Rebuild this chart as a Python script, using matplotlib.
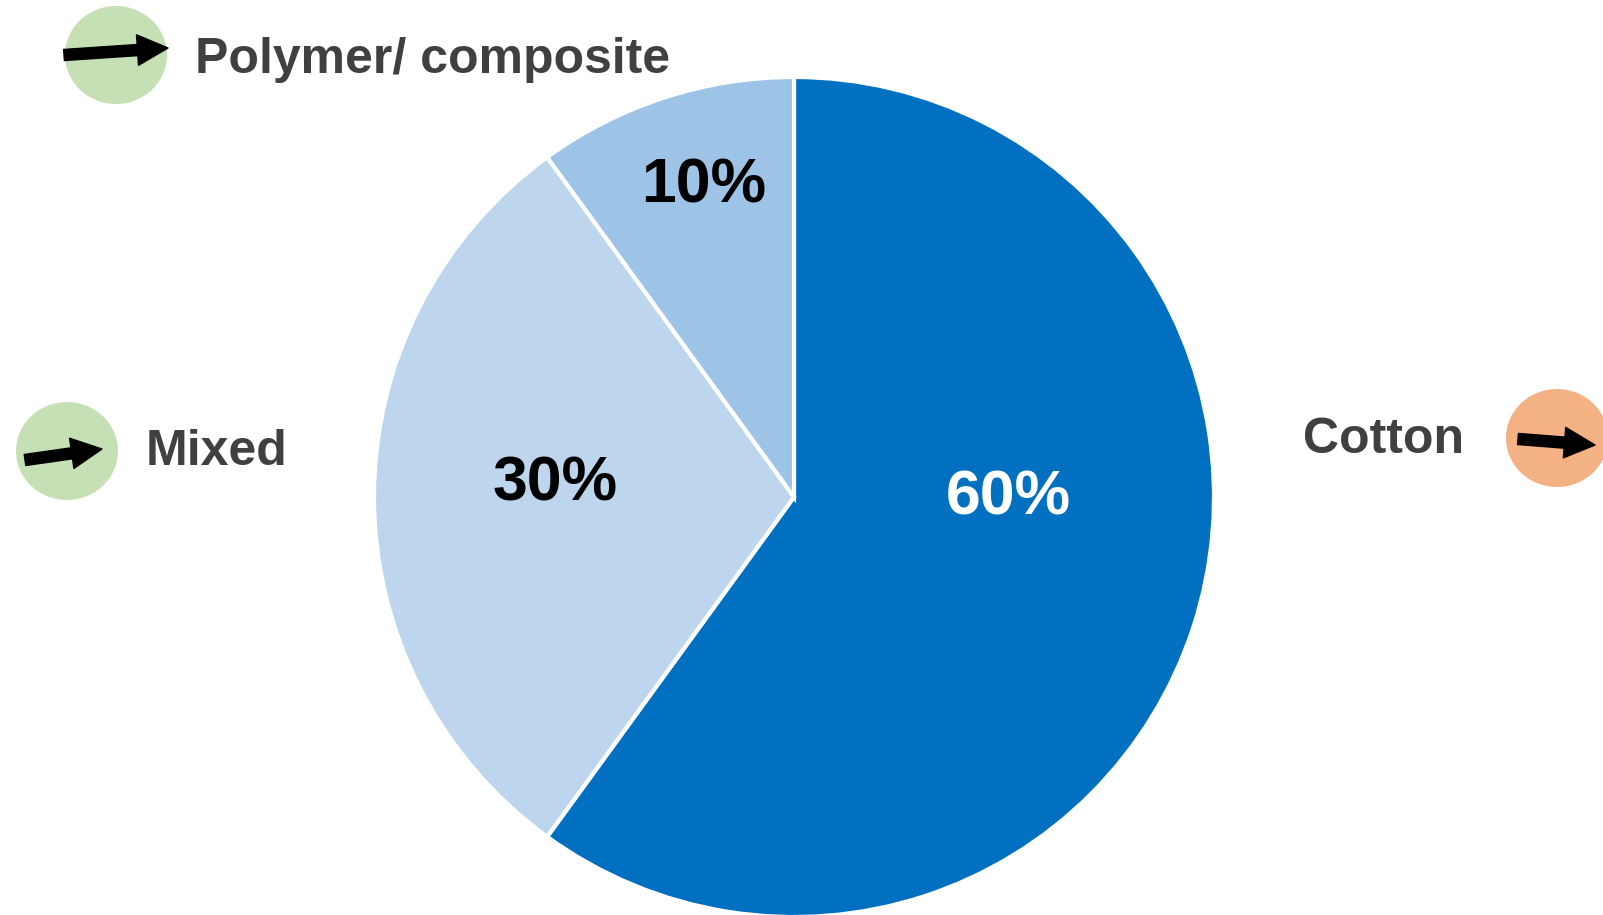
import matplotlib
matplotlib.use("Agg")
import matplotlib.pyplot as plt
from matplotlib.patches import Ellipse

plt.rcParams['font.family'] = ['Liberation Sans', 'DejaVu Sans']

W = 1603
H = 915

# slices go clockwise from 12 o'clock
categories = ['Cotton', 'Mixed', 'Polymer/ composite']
shares = [60, 30, 10]
labels = ['60%', '30%', '10%']
colors = ['#0170C1', '#BDD6EE', '#9DC3E6']
label_colors = ['white', 'black', 'black']
badge_colors = ['#F4B183', '#C5E0B4', '#C5E0B4']

fig = plt.figure(figsize=(W / 100, H / 100), dpi=100)

# pie axes placed in pixel fractions
cx, cy, r = 794, 497, 420
pie_ax = fig.add_axes([(cx - r) / W, 1 - (cy + r) / H, 2 * r / W, 2 * r / H])
pie_ax.pie(shares, colors=colors, startangle=90, counterclock=False, radius=1,
           wedgeprops={'edgecolor': 'white', 'linewidth': 3})
pie_ax.set_xlim(-1, 1)
pie_ax.set_ylim(-1, 1)

# overlay in pixel coordinates for the text and the badges
ax = fig.add_axes([0, 0, 1, 1])
ax.set_xlim(0, W)
ax.set_ylim(H, 0)
ax.axis('off')

label_pos = [(1008, 498), (555, 484), (704, 186)]
for txt, col, (x, y) in zip(labels, label_colors, label_pos):
    ax.text(x, y, txt, color=col, fontsize=45, fontweight='bold', ha='center', va='center')

text_pos = [(1303, 440), (146, 452), (195, 60)]
badges = [(1557, 438), (67, 451), (116, 55)]
arrows = [((1518, 439), (1595, 445)), ((25, 460), (102, 449)), ((64, 55), (168, 48))]

for name, col, (tx, ty), (bx, by), (a, b) in zip(categories, badge_colors, text_pos, badges, arrows):
    ax.text(tx, ty, name, color='#404040', fontsize=36, fontweight='bold', va='center')
    ax.add_patch(Ellipse((bx, by), 102, 98, facecolor=col, edgecolor='none'))
    ax.annotate('', xy=b, xytext=a, xycoords='data', textcoords='data',
                arrowprops=dict(width=8, headwidth=22, headlength=22, color='black', shrink=0))

fig.savefig('out.png', dpi=100)
